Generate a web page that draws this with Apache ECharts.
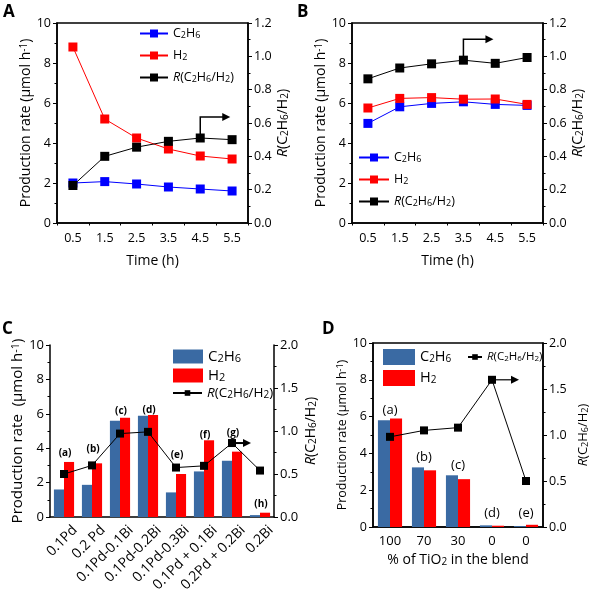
<!DOCTYPE html>
<html><head><meta charset="utf-8">
<script src="https://cdn.jsdelivr.net/npm/echarts@6/dist/echarts.min.js"></script>
<style>html,body{margin:0;padding:0;background:#fff}#c{width:591px;height:590px}</style>
</head><body><div id="c"></div>
<script>
// ---------------- DATA ----------------
const timeLabels = ['0.5', '1.5', '2.5', '3.5', '4.5', '5.5'];
const aC2H6 = [2.0, 2.07, 1.95, 1.8, 1.7, 1.6];
const aH2 = [8.8, 5.2, 4.25, 3.7, 3.35, 3.2];
const aR = [0.225, 0.40, 0.455, 0.49, 0.51, 0.50];
const bC2H6 = [4.98, 5.81, 5.98, 6.06, 5.93, 5.88];
const bH2 = [5.75, 6.23, 6.27, 6.19, 6.2, 5.93];
const bR = [0.865, 0.93, 0.955, 0.977, 0.958, 0.993];
const catalystLabels = ['0.1Pd', '0.2 Pd', '0.1Pd-0.1Bi', '0.1Pd-0.2Bi', '0.1Pd-0.3Bi', '0.1Pd + 0.1Bi', '0.2Pd + 0.2Bi', '0.2Bi'];
const cTags = ['(a)', '(b)', '(c)', '(d)', '(e)', '(f)', '(g)', '(h)'];
const cC2H6 = [1.6, 1.87, 5.6, 5.88, 1.43, 2.65, 3.27, 0.11];
const cH2 = [3.2, 3.12, 5.77, 5.93, 2.5, 4.46, 3.8, 0.25];
const cR = [0.50, 0.60, 0.97, 0.99, 0.575, 0.595, 0.86, 0.54];
const tio2Labels = ['100', '70', '30', '0', '0'];
const dTags = ['(a)', '(b)', '(c)', '(d)', '(e)'];
const dC2H6 = [5.8, 3.24, 2.81, 0.09, 0.05];
const dH2 = [5.9, 3.08, 2.6, 0.07, 0.12];
const dR = [0.98, 1.05, 1.08, 1.6, 0.5];

// ---------------- STYLE ----------------
const FONT = "'Open Sans', sans-serif";
const BLACK = '#000';
const BLUE = '#0000ff', RED = '#ff0000', STEEL = '#3a6aa3', BAR_RED = '#ff0000';
const tagNudgeC = [1, -4, 3, 5, -9, 5, -8, 1];
const tagNudgeD = [3, -2, -2, -1, 0];

const richFor = fs => ({
  sub: {fontSize: Math.round(fs * 0.72), lineHeight: 4, verticalAlign: 'bottom', fontFamily: FONT, color: BLACK},
  sup: {fontSize: Math.round(fs * 0.72), lineHeight: 4, verticalAlign: 'top', fontFamily: FONT, color: BLACK},
  i: {fontStyle: 'italic', fontSize: fs, fontFamily: FONT, color: BLACK}
});
const NAMES = {
  C2H6: 'C{sub|2}H{sub|6}',
  H2: 'H{sub|2}',
  R: '{i|R}(C{sub|2}H{sub|6}/H{sub|2})'
};
const prodName = 'Production rate (μmol h{sup|-1})';

const chart = echarts.init(document.getElementById('c'), null, {renderer: 'canvas', width: 591, height: 590});

const xCat = (grid, data, extra) => Object.assign({
  type: 'category', gridIndex: grid, data, boundaryGap: true, position: 'bottom',
  axisLine: {lineStyle: {color: BLACK, width: 1.5}},
  axisTick: {alignWithLabel: true, length: 4, lineStyle: {color: BLACK, width: 1}},
  axisLabel: {color: BLACK, fontSize: 12.5, fontFamily: FONT, margin: 9},
  splitLine: {show: false}
}, extra || {});
const xMinor = grid => ({
  type: 'value', gridIndex: grid, position: 'bottom', min: 0, max: 6, interval: 1,
  axisLine: {show: false}, axisLabel: {show: false},
  axisTick: {show: true, length: 2.5, lineStyle: {color: BLACK, width: 1}},
  splitLine: {show: false}
});
const yVal = (grid, max, interval, pos, dec, name, gap, fs, nameFs) => ({
  type: 'value', gridIndex: grid, position: pos, min: 0, max, interval,
  axisLine: {show: true, lineStyle: {color: BLACK, width: 1.5}},
  axisTick: {show: true, length: 4, lineStyle: {color: BLACK, width: 1}},
  minorTick: {show: true, splitNumber: 2, length: 2.5, lineStyle: {color: BLACK, width: 1}},
  splitLine: {show: false}, minorSplitLine: {show: false},
  axisLabel: {color: BLACK, fontSize: fs, fontFamily: FONT, margin: 6, formatter: v => v.toFixed(dec)},
  name, nameLocation: 'middle', nameRotate: 90, nameGap: gap,
  nameTextStyle: {color: BLACK, fontSize: nameFs, fontFamily: FONT, rich: richFor(nameFs)}
});
const lineS = (name, xi, yi, data, color, size) => ({
  type: 'line', name, xAxisIndex: xi, yAxisIndex: yi, data, symbol: 'rect', symbolSize: size,
  itemStyle: {color}, lineStyle: {color, width: 1}, emphasis: {disabled: true}
});
const legendFmt = n => NAMES[n.split('_')[1]];
const legend = (data, left, top, iw, ih, gap, fs) => ({
  data, left, top, orient: 'vertical', itemWidth: iw, itemHeight: ih, itemGap: gap, padding: 0,
  formatter: legendFmt, selectedMode: false,
  textStyle: {color: BLACK, fontSize: fs, fontFamily: FONT, rich: richFor(fs)}
});

const gridBox = {show: true, borderColor: BLACK, borderWidth: 1.5, backgroundColor: 'transparent'};
const timeName = {name: 'Time (h)', nameLocation: 'middle', nameGap: 31, nameTextStyle: {color: BLACK, fontSize: 14, fontFamily: FONT}};

const option = {
  animation: false,
  backgroundColor: '#fff',
  textStyle: {fontFamily: FONT},
  grid: [
    Object.assign({left: 57, top: 23, width: 191, height: 200}, gridBox),
    Object.assign({left: 352, top: 23, width: 191, height: 200}, gridBox),
    {left: 50, top: 345, width: 224, height: 172, show: false},
    Object.assign({left: 373, top: 343, width: 170, height: 184}, gridBox)
  ],
  xAxis: [
    xCat(0, timeLabels, timeName),
    xMinor(0),
    xCat(1, timeLabels, timeName),
    xMinor(1),
    xCat(2, catalystLabels, {axisLabel: {show: false}}),
    xCat(3, tio2Labels.map((t, i) => 'k' + i), {
      axisLabel: {color: BLACK, fontSize: 13, fontFamily: FONT, margin: 8, formatter: (v, i) => tio2Labels[i]},
      name: '% of TiO{sub|2} in the blend', nameLocation: 'middle', nameGap: 26,
      nameTextStyle: {color: BLACK, fontSize: 14, fontFamily: FONT, rich: richFor(14)}
    })
  ],
  yAxis: [
    yVal(0, 10, 2, 'left', 0, prodName, 21, 12.5, 14),
    yVal(0, 1.2, 0.2, 'right', 1, NAMES.R, 28, 12.5, 14),
    yVal(1, 10, 2, 'left', 0, prodName, 21, 12.5, 14),
    yVal(1, 1.2, 0.2, 'right', 1, NAMES.R, 28, 12.5, 14),
    yVal(2, 10, 2, 'left', 0, 'Production rate  (μmol h{sup|-1})', 17, 13, 15),
    yVal(2, 2, 0.5, 'right', 1, NAMES.R, 30, 13, 14),
    yVal(3, 10, 2, 'left', 0, prodName, 21, 12.5, 12.5),
    yVal(3, 2, 0.5, 'right', 1, NAMES.R, 34, 12.5, 13)
  ],
  legend: [
    legend(['A_C2H6', 'A_H2', 'A_R'], 139, 27, 28, 10, 9, 12.5),
    legend(['B_C2H6', 'B_H2', 'B_R'], 358, 151, 30, 10, 9, 12.5),
    legend([{name: 'C_C2H6', icon: 'rect'}, {name: 'C_H2', icon: 'rect'}], 173, 349, 30, 14, 4, 15),
    legend(['C_R'], 172, 386, 29, 7, 4, 13.5),
    legend([{name: 'D_C2H6', icon: 'rect'}, {name: 'D_H2', icon: 'rect'}], 383, 349, 32, 16, 5, 14.5),
    legend(['D_R'], 467, 351, 14, 7, 4, 11.5)
  ],
  series: [
    lineS('A_C2H6', 0, 0, aC2H6, BLUE, 9),
    lineS('A_H2', 0, 0, aH2, RED, 9),
    lineS('A_R', 0, 1, aR, BLACK, 9),
    lineS('B_C2H6', 2, 2, bC2H6, BLUE, 9),
    lineS('B_H2', 2, 2, bH2, RED, 9),
    lineS('B_R', 2, 3, bR, BLACK, 9),
    {type: 'bar', name: 'C_C2H6', xAxisIndex: 4, yAxisIndex: 4, data: cC2H6, itemStyle: {color: STEEL},
     barGap: '0%', barCategoryGap: '28%', emphasis: {disabled: true}},
    {type: 'bar', name: 'C_H2', xAxisIndex: 4, yAxisIndex: 4, itemStyle: {color: BAR_RED},
     barGap: '0%', barCategoryGap: '28%', emphasis: {disabled: true},
     data: cH2.map((v, i) => ({value: v, label: {show: true, position: 'top', formatter: cTags[i],
       offset: [-4, tagNudgeC[i]], color: BLACK, fontSize: 10, fontWeight: 'bold', fontFamily: FONT}}))},
    lineS('C_R', 4, 5, cR, BLACK, 8),
    {type: 'bar', name: 'D_C2H6', xAxisIndex: 5, yAxisIndex: 6, data: dC2H6, itemStyle: {color: STEEL},
     barGap: '0%', barCategoryGap: '29%', emphasis: {disabled: true}},
    {type: 'bar', name: 'D_H2', xAxisIndex: 5, yAxisIndex: 6, itemStyle: {color: BAR_RED},
     barGap: '0%', barCategoryGap: '29%', emphasis: {disabled: true},
     data: dH2.map((v, i) => ({value: v, label: {show: true, position: 'top', formatter: dTags[i],
       offset: [-6, tagNudgeD[i]], color: BLACK, fontSize: 13, fontFamily: FONT}}))},
    lineS('D_R', 5, 7, dR, BLACK, 8)
  ]
};
chart.setOption(option);

// ---------------- ANNOTATIONS ----------------
function arrow(seriesIndex, idx, value, up, right, width) {
  const p = chart.convertToPixel({seriesIndex}, [idx, value]);
  const ex = p[0] + right, ey = p[1] - up;
  const pts = up ? [[p[0], p[1]], [p[0], ey], [ex - 3, ey]] : [[p[0], p[1]], [ex - 3, ey]];
  return [
    {type: 'polyline', shape: {points: pts}, style: {stroke: BLACK, lineWidth: width, fill: null}, z: 50},
    {type: 'polygon', shape: {points: [[ex + 3, ey], [ex - 5, ey - 4], [ex - 5, ey + 4]]}, style: {fill: BLACK}, z: 50}
  ];
}
const letter = (t, left, top) => ({type: 'text', left, top, z: 60,
  style: {text: t, fontSize: 17, fontWeight: 'bold', fontFamily: FONT, fill: BLACK}});

// rotated category labels of panel C, anchored to the category axis positions
const axisYC = chart.convertToPixel({yAxisIndex: 4}, 0);
const catLabelsC = catalystLabels.map((t, i) => {
  const x = chart.convertToPixel({xAxisIndex: 4}, i);
  return {type: 'text', x: x + 11, y: axisYC + 11, rotation: Math.PI / 4, z: 40,
    style: {text: t, fontSize: 14, fontFamily: FONT, fill: BLACK, align: 'right', verticalAlign: 'middle'}};
});

chart.setOption({
  graphic: [
    ...arrow(2, 4, aR[4], 21, 27, 1.5),
    ...arrow(5, 3, bR[3], 21, 27, 1.5),
    ...arrow(8, 6, cR[6], 0, 16, 2),
    ...arrow(11, 3, dR[3], 0, 24, 1.2),
    ...catLabelsC,
    letter('A', 3, 4),
    letter('B', 297, 4),
    letter('C', 2, 321),
    letter('D', 322, 321)
  ]
});
</script></body></html>
